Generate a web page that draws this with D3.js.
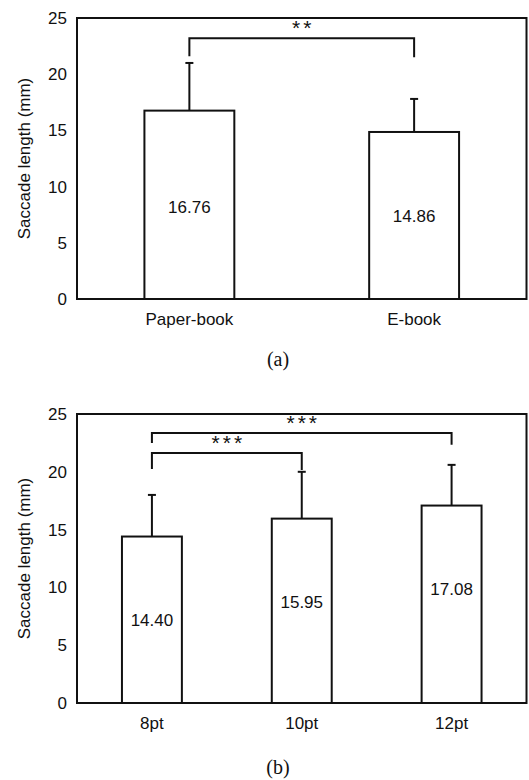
<!DOCTYPE html>
<html>
<head>
<meta charset="utf-8">
<script src="https://cdn.jsdelivr.net/npm/d3@7/dist/d3.min.js"></script>
<style>
  body { margin: 0; background: #fff; }
  text { font-family: "Liberation Sans", Arial, sans-serif; fill: #111; }
  .caption { font-family: "Liberation Serif", "Times New Roman", serif; }
</style>
</head>
<body>
<div class="container"></div>
<script>
// panel (a)
const catsA = ['Paper-book', 'E-book']
const meansA = [16.76, 14.86]
const sdA = [4.24, 2.94]
const sigA = [['Paper-book', 'E-book', '**']]

// panel (b)
const catsB = ['8pt', '10pt', '12pt']
const meansB = [14.40, 15.95, 17.08]
const sdB = [3.60, 4.05, 3.52]
const sigB = [['8pt', '12pt', '***'], ['8pt', '10pt', '***']]

const yTicks = [0, 5, 10, 15, 20, 25]
const yTitle = 'Saccade length (mm)'

const W = 529, H = 780

let svg = d3.select('.container')
	.append('svg')
	.attr('width', W)
	.attr('height', H)

function drawPanel(opt) {
	let x = d3.scaleBand()
		.domain(opt.cats)
		.range([77, 526.5])
		.paddingInner(0.6)
		.paddingOuter(0.3)

	let y = d3.scaleLinear()
		.domain([0, 25])
		.range([opt.bottom, opt.top])

	let g = svg.append('g')
	let cx = d => x(d) + x.bandwidth() / 2

	// bars
	g.selectAll('rect.bar')
		.data(opt.cats)
		.join('rect')
		.attr('class', 'bar')
		.attr('x', d => x(d))
		.attr('width', x.bandwidth())
		.attr('y', (d, i) => y(opt.means[i]))
		.attr('height', (d, i) => y(0) - y(opt.means[i]))
		.attr('fill', '#fff')
		.attr('stroke', '#111')
		.attr('stroke-width', 2)

	// error bars (upper only)
	opt.cats.forEach((c, i) => {
		let top = y(opt.means[i] + opt.sd[i])
		g.append('line')
			.attr('x1', cx(c)).attr('x2', cx(c))
			.attr('y1', y(opt.means[i])).attr('y2', top)
			.attr('stroke', '#111').attr('stroke-width', 2)
		g.append('line')
			.attr('x1', cx(c) - 4).attr('x2', cx(c) + 4)
			.attr('y1', top).attr('y2', top)
			.attr('stroke', '#111').attr('stroke-width', 2)
	})

	// value labels
	g.selectAll('text.val')
		.data(opt.cats)
		.join('text')
		.attr('class', 'val')
		.attr('x', d => cx(d))
		.attr('y', (d, i) => y(opt.labelY[i]))
		.attr('dy', '0.35em')
		.attr('text-anchor', 'middle')
		.style('font-size', '17px')
		.text((d, i) => d3.format('.2f')(opt.means[i]))

	// significance brackets
	opt.sig.forEach((s, k) => {
		let b = opt.brackets[k]
		let x1 = cx(s[0]), x2 = cx(s[1])
		g.append('path')
			.attr('d', `M${x1},${y(b[1])}V${y(b[0])}H${x2}V${y(b[2])}`)
			.attr('fill', 'none')
			.attr('stroke', '#111')
			.attr('stroke-width', 2)
		g.append('text')
			.attr('x', b[3] == null ? (x1 + x2) / 2 : x(b[3]) + x.bandwidth() / 2)
			.attr('y', y(b[0]) - 3)
			.attr('dx', 1.5)
			.attr('text-anchor', 'middle')
			.style('font-size', '21px')
			.style('letter-spacing', '3px')
			.text(s[2])
	})

	// y axis labels
	let ya = g.append('g')
		.attr('transform', `translate(77,0)`)
		.call(d3.axisLeft(y).tickValues(yTicks).tickSize(0).tickPadding(10))
	ya.select('.domain').remove()
	ya.selectAll('text').style('font-size', '17px').attr('fill', '#111')

	// x axis labels
	let xa = g.append('g')
		.attr('transform', `translate(0,${opt.bottom})`)
		.call(d3.axisBottom(x).tickSize(0).tickPadding(14))
	xa.select('.domain').remove()
	xa.selectAll('text').style('font-size', '17px').attr('fill', '#111')

	// frame
	g.append('rect')
		.attr('x', 77).attr('y', opt.top)
		.attr('width', 526.5 - 77).attr('height', opt.bottom - opt.top)
		.attr('fill', 'none')
		.attr('stroke', '#111')
		.attr('stroke-width', 2)

	g.append('text')
		.attr('transform', `translate(24,${(opt.top + opt.bottom) / 2}) rotate(-90)`)
		.attr('dy', '0.35em')
		.attr('text-anchor', 'middle')
		.style('font-size', '17px')
		.text(yTitle)

	g.append('text')
		.attr('class', 'caption')
		.attr('x', opt.capX)
		.attr('y', opt.capY)
		.attr('text-anchor', 'middle')
		.style('font-size', '20px')
		.text(opt.caption)
}

drawPanel({
	cats: catsA, means: meansA, sd: sdA, sig: sigA,
	top: 18, bottom: 299,
	labelY: [8.14, 7.37],
	// [bar level, left leg end, right leg end, star anchor]
	brackets: [[23.2, 21.6, 21.5, null]],
	caption: '(a)', capX: 278, capY: 366
})

drawPanel({
	cats: catsB, means: meansB, sd: sdB, sig: sigB,
	top: 414, bottom: 703,
	labelY: [7.2, 8.74, 9.9],
	brackets: [[23.35, 22.5, 22.35, '10pt'], [21.63, 20.25, 20.15, null]],
	caption: '(b)', capX: 278, capY: 774
})
</script>
</body>
</html>
